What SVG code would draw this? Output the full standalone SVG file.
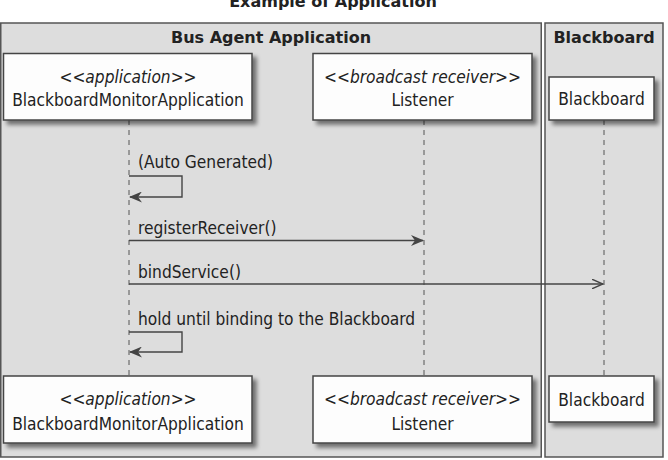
<svg xmlns="http://www.w3.org/2000/svg" width="668" height="460" viewBox="0 0 668 460">
<defs>
<filter id="sh" x="-10%" y="-10%" width="130%" height="140%">
<feGaussianBlur in="SourceAlpha" stdDeviation="2"/>
<feOffset dx="4" dy="4" result="b"/>
<feComponentTransfer><feFuncA type="linear" slope="0.5"/></feComponentTransfer>
<feMerge><feMergeNode/><feMergeNode in="SourceGraphic"/></feMerge>
</filter>
<marker id="fill" viewBox="0 0 13 11" refX="12" refY="5.5" markerWidth="13" markerHeight="11" markerUnits="userSpaceOnUse" orient="auto">
<path d="M0,0 L13,5.5 L0,11 L4,5.5 Z" fill="#444"/>
</marker>
<marker id="open" viewBox="0 0 12 10" refX="11.5" refY="5" markerWidth="12" markerHeight="10" markerUnits="userSpaceOnUse" orient="auto">
<path d="M0,0 L11.5,5 L0,10" fill="none" stroke="#444" stroke-width="1.4"/>
</marker>
</defs>
<style>
text{font-family:"DejaVu Sans Condensed","DejaVu Sans","Liberation Sans",sans-serif;fill:#222;}
.t{font-size:17.2px;font-stretch:condensed;}
.b{font-family:"DejaVu Sans","Liberation Sans",sans-serif;font-size:16px;font-weight:bold;}
.title{font-family:"DejaVu Sans","Liberation Sans",sans-serif;font-size:16px;font-weight:bold;}
.i{font-style:italic;}
.frame{fill:#dddddd;stroke:#555;stroke-width:1.5;}
.box{fill:#fdfdfd;stroke:#444;stroke-width:1.5;filter:url(#sh);}
.life{stroke:#555;stroke-width:1;stroke-dasharray:5,5;fill:none;}
.msg{stroke:#444;stroke-width:1.4;fill:none;}
</style>
<rect width="668" height="460" fill="#fff"/>
<text class="title" x="333" y="7" text-anchor="middle">Example of Application</text>
<g id="frame-bus">
<rect class="frame" x="0.75" y="23" width="540.5" height="434"/>
<text class="b" x="271" y="43" text-anchor="middle">Bus Agent Application</text>
</g>
<g id="frame-blackboard">
<rect class="frame" x="545" y="23" width="118" height="434"/>
<text class="b" x="604" y="43" text-anchor="middle">Blackboard</text>
</g>
<g id="lifelines">
<line class="life" x1="129" y1="120" x2="129" y2="376"/>
<line class="life" x1="424" y1="120" x2="424" y2="376"/>
<line class="life" x1="604" y1="120" x2="604" y2="376"/>
</g>
<g id="p-bma-top">
<rect class="box" x="3.5" y="53.5" width="248.5" height="66.5"/>
<text class="t" x="128" y="83" text-anchor="middle">&lt;&lt;<tspan class="i">application</tspan>&gt;&gt;</text>
<text class="t" x="128" y="106" text-anchor="middle">BlackboardMonitorApplication</text>
</g>
<g id="p-listener-top">
<rect class="box" x="313" y="53.5" width="219" height="66.5"/>
<text class="t" x="422.5" y="83" text-anchor="middle">&lt;&lt;<tspan class="i">broadcast receiver</tspan>&gt;&gt;</text>
<text class="t" x="422.5" y="106" text-anchor="middle">Listener</text>
</g>
<g id="p-blackboard-top">
<rect class="box" x="549" y="77" width="105" height="43"/>
<text class="t" x="601.5" y="105" text-anchor="middle">Blackboard</text>
</g>
<g id="connectors">
<text class="t" x="138" y="168">(Auto Generated)</text>
<path class="msg" d="M129,176 H182 V197 H130" marker-end="url(#fill)"/>
<text class="t" x="138" y="234">registerReceiver()</text>
<line class="msg" x1="129" y1="240.5" x2="423" y2="240.5" marker-end="url(#fill)"/>
<text class="t" x="138" y="278">bindService()</text>
<line class="msg" x1="129" y1="284" x2="603" y2="284" marker-end="url(#open)"/>
<text class="t" x="138" y="325">hold until binding to the Blackboard</text>
<path class="msg" d="M129,332 H182 V352 H130" marker-end="url(#fill)"/>
</g>
<g id="p-bma-bottom">
<rect class="box" x="3.5" y="376" width="248.5" height="67"/>
<text class="t" x="128" y="405" text-anchor="middle">&lt;&lt;<tspan class="i">application</tspan>&gt;&gt;</text>
<text class="t" x="128" y="430" text-anchor="middle">BlackboardMonitorApplication</text>
</g>
<g id="p-listener-bottom">
<rect class="box" x="313" y="376" width="219" height="67"/>
<text class="t" x="422.5" y="405" text-anchor="middle">&lt;&lt;<tspan class="i">broadcast receiver</tspan>&gt;&gt;</text>
<text class="t" x="422.5" y="430" text-anchor="middle">Listener</text>
</g>
<g id="p-blackboard-bottom">
<rect class="box" x="549" y="376" width="105" height="46"/>
<text class="t" x="601.5" y="406" text-anchor="middle">Blackboard</text>
</g>
</svg>
